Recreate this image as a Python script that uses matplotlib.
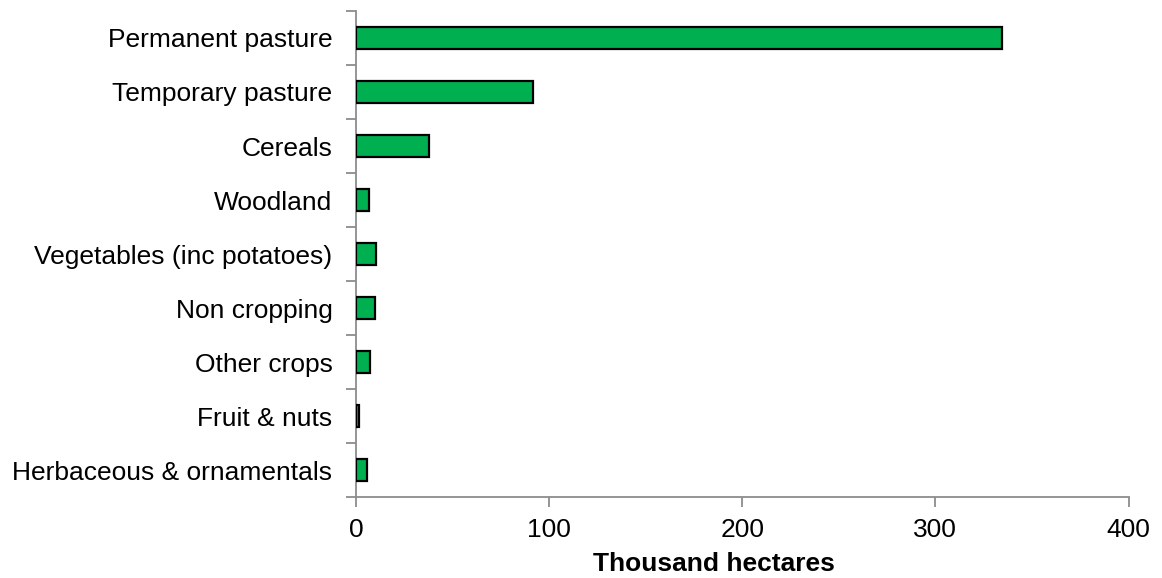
import matplotlib.pyplot as plt
import numpy as np

plt.rcParams['font.family'] = ['Liberation Sans', 'DejaVu Sans']

# Land use categories (top to bottom) and area in thousand hectares
categories = [
    "Permanent pasture",
    "Temporary pasture",
    "Cereals",
    "Woodland",
    "Vegetables (inc potatoes)",
    "Non cropping",
    "Other crops",
    "Fruit & nuts",
    "Herbaceous & ornamentals",
]
areas = [334.5, 91.5, 37.8, 6.9, 10.2, 9.7, 7.2, 1.7, 5.5]

x_ticks = [0, 100, 200, 300, 400]

fig = plt.figure(figsize=(11.62, 5.78), dpi=100)
ax = fig.add_axes([0.3064, 0.14, 0.9712 - 0.3064, 0.981 - 0.14])

y = np.arange(len(categories))
ax.barh(y, areas, height=0.4, color='#00b050', edgecolor='black', linewidth=1.6, zorder=3)

ax.set_xlim(0, 400)
ax.set_ylim(len(categories) - 0.5, -0.5)

axis_grey = '#8c8c8c'
for side in ['top', 'right']:
    ax.spines[side].set_visible(False)
for side in ['left', 'bottom']:
    ax.spines[side].set_color(axis_grey)
    ax.spines[side].set_linewidth(1.3)

ax.set_yticks(y)
ax.set_yticklabels(categories, fontsize=19)
ax.set_yticks(np.arange(-0.5, len(categories), 1.0), minor=True)
ax.tick_params(axis='y', which='major', length=0, pad=17)
ax.tick_params(axis='y', which='minor', length=7, width=1.3, color=axis_grey)

ax.set_xticks(x_ticks)
ax.set_xticklabels([str(t) for t in x_ticks], fontsize=19)
ax.tick_params(axis='x', length=7, width=1.3, color=axis_grey, pad=8)

ax.set_xlabel('Thousand hectares', fontsize=19, fontweight='bold')
ax.xaxis.set_label_coords(0.4635, -0.113)

fig.savefig('out.png', dpi=100)
